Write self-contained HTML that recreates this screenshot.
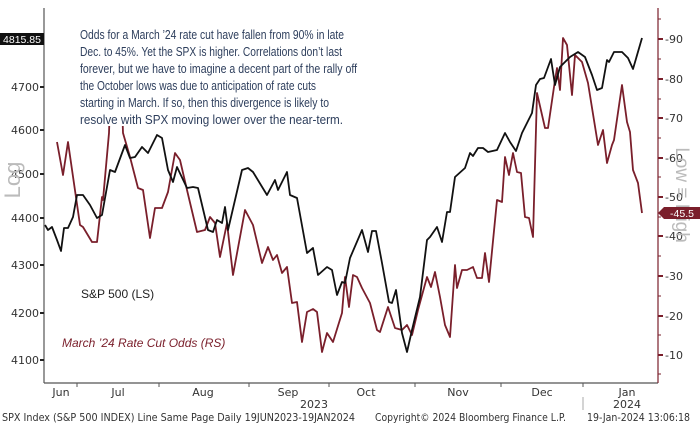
<!DOCTYPE html>
<html><head><meta charset="utf-8"><style>
html,body{margin:0;padding:0;background:#fff;width:700px;height:434px;overflow:hidden}
svg{display:block}
.t{font-family:"DejaVu Sans","Liberation Sans",sans-serif;font-size:11px;fill:#333}
.n{font-family:"Liberation Sans",sans-serif;font-size:13px;fill:#2d3e5c}
</style></head><body>
<svg width="700" height="434" viewBox="0 0 700 434">
<rect width="700" height="434" fill="#fff"/>
<polyline fill="none" stroke="#7a1f2b" stroke-width="1.8" stroke-linejoin="round" points="57,142 63,175 68,142 80,225 83,227 92,242 97,242 102,197 103,200 109,133 112,40 120,40 123,133 130,157 138,188 143,190 150,238 155,208 162,208 168,192 175,153 180,160 187,190 197,232 205,230 210,217 215,223 220,257 227,223 233,275 245,210 253,225 262,263 268,247 273,260 277,255 282,273 287,267 292,303 297,302 302,342 307,312 313,309 317,312 322,352 327,333 333,342 342,313 345,277 349,307 353,275 357,277 362,288 370,303 377,330 380,332 388,307 395,328 402,330 407,325 412,335 418,310 427,277 431,287 435,272 440,297 445,325 450,337 455,265 457,288 462,270 467,270 473,267 477,278 482,278 485,253 489,282 497,200 502,202 505,157 509,175 513,153 517,172 521,173 525,217 529,218 533,237 537,93 545,128 548,128 554,87 557,68 560,90 563,38 567,45 572,95 575,55 582,62 588,83 598,145 603,130 607,163 612,145 614,140 622,85 627,122 630,132 633,170 638,183 642,213"/>
<polyline fill="none" stroke="#111" stroke-width="1.8" stroke-linejoin="round" points="45,225 48,230 52,227 57,240 61,251 64,228 68,228 73,217 77,195 83,195 90,205 97,218 102,215 110,170 115,172 125,145 130,158 135,157 142,147 148,153 157,135 162,138 168,170 173,182 177,167 187,188 193,187 198,188 208,230 213,232 217,220 222,223 225,207 228,230 242,170 248,168 253,172 267,195 275,180 278,190 287,172 290,195 297,198 307,253 313,248 318,275 327,267 332,270 337,295 342,282 345,283 350,258 362,230 368,252 372,231 376,231 382,263 389,302 392,303 396,290 402,333 407,352 412,330 420,297 427,240 430,237 437,227 442,242 447,212 450,212 455,177 465,168 470,153 473,156 478,148 483,148 488,152 497,150 505,133 510,142 516,151 522,133 532,113 536,85 540,79 544,78 551,59 555,85 560,67 570,57 578,52 585,57 592,75 597,90 602,88 607,60 609,62 614,52 622,52 628,58 633,69 642,38"/>
<rect x="76" y="9" width="272" height="117" fill="#fff"/>
<text class="n" x="80" y="39" textLength="264" lengthAdjust="spacingAndGlyphs">Odds for a March ’24 rate cut have fallen from 90% in late</text>
<text class="n" x="80" y="56" textLength="262" lengthAdjust="spacingAndGlyphs">Dec. to 45%. Yet the SPX is higher. Correlations don’t last</text>
<text class="n" x="80" y="73" textLength="277" lengthAdjust="spacingAndGlyphs">forever, but we have to imagine a decent part of the rally off</text>
<text class="n" x="80" y="90" textLength="236" lengthAdjust="spacingAndGlyphs">the October lows was due to anticipation of rate cuts</text>
<text class="n" x="80" y="107" textLength="249" lengthAdjust="spacingAndGlyphs">starting in March. If so, then this divergence is likely to</text>
<text class="n" x="80" y="124" textLength="263" lengthAdjust="spacingAndGlyphs">resolve with SPX moving lower over the near-term.</text>
<g stroke="#555" stroke-width="1.2" fill="none">
<line x1="44" y1="8" x2="44" y2="383"/>
<line x1="44" y1="383" x2="658" y2="383"/>
</g>
<line x1="658" y1="8" x2="658" y2="383" stroke="#7a1f2b" stroke-width="1.2"/>
<g stroke="#222" stroke-width="2">
<line x1="40" y1="87" x2="44" y2="87"/><line x1="40" y1="130" x2="44" y2="130"/><line x1="40" y1="174" x2="44" y2="174"/><line x1="40" y1="218" x2="44" y2="218"/><line x1="40" y1="265" x2="44" y2="265"/><line x1="40" y1="313" x2="44" y2="313"/><line x1="40" y1="360" x2="44" y2="360"/>
</g>
<g class="t" text-anchor="end">
<text x="39" y="91">4700</text><text x="39" y="134">4600</text><text x="39" y="178">4500</text><text x="39" y="222">4400</text><text x="39" y="269">4300</text><text x="39" y="317">4200</text><text x="39" y="364">4100</text>
</g>
<rect x="0" y="33" width="44" height="12" fill="#111"/>
<text x="22" y="43" text-anchor="middle" font-family="Liberation Sans,sans-serif" font-size="10.5" fill="#fff">4815.85</text>
<text transform="translate(20,180) rotate(-90)" text-anchor="middle" font-family="Liberation Sans,sans-serif" font-size="22" fill="#bbb">Log</text>
<g stroke="#7a1f2b" stroke-width="2">
<line x1="658" y1="39" x2="663" y2="39"/><line x1="658" y1="79" x2="663" y2="79"/><line x1="658" y1="118" x2="663" y2="118"/><line x1="658" y1="158" x2="663" y2="158"/><line x1="658" y1="197" x2="663" y2="197"/><line x1="658" y1="236" x2="663" y2="236"/><line x1="658" y1="276" x2="663" y2="276"/><line x1="658" y1="316" x2="663" y2="316"/><line x1="658" y1="355" x2="663" y2="355"/>
</g>
<g stroke="#7a1f2b" stroke-width="1">
<line x1="658" y1="19" x2="661" y2="19"/><line x1="658" y1="59" x2="661" y2="59"/><line x1="658" y1="99" x2="661" y2="99"/><line x1="658" y1="138" x2="661" y2="138"/><line x1="658" y1="177" x2="661" y2="177"/><line x1="658" y1="217" x2="661" y2="217"/><line x1="658" y1="256" x2="661" y2="256"/><line x1="658" y1="296" x2="661" y2="296"/><line x1="658" y1="335" x2="661" y2="335"/><line x1="658" y1="374" x2="661" y2="374"/>
</g>
<g class="t">
<text x="665" y="43">-90</text><text x="665" y="83">-80</text><text x="665" y="122">-70</text><text x="665" y="162">-60</text><text x="665" y="201">-50</text><text x="665" y="240">-40</text><text x="665" y="280">-30</text><text x="665" y="320">-20</text><text x="665" y="359">-10</text>
</g>
<text transform="translate(676,195) rotate(90)" text-anchor="middle" font-family="Liberation Sans,sans-serif" font-size="19" fill="#bbb">Low ≡ High</text>
<polygon points="658,213 664,207 700,207 700,219 664,219" fill="#7a1f2b"/>
<text x="682" y="217" text-anchor="middle" font-family="Liberation Sans,sans-serif" font-size="10.5" fill="#fff">-45.5</text>
<g stroke="#555" stroke-width="1">
<line x1="77" y1="383" x2="77" y2="387"/><line x1="159" y1="383" x2="159" y2="387"/><line x1="249" y1="383" x2="249" y2="387"/><line x1="329" y1="383" x2="329" y2="387"/><line x1="415" y1="383" x2="415" y2="387"/><line x1="501" y1="383" x2="501" y2="387"/><line x1="583" y1="383" x2="583" y2="387"/>
<line x1="583" y1="397" x2="583" y2="410" stroke="#aaa"/>
</g>
<g class="t" text-anchor="middle">
<text x="61" y="396">Jun</text><text x="118" y="396">Jul</text><text x="203" y="396">Aug</text><text x="288" y="396">Sep</text><text x="366" y="396">Oct</text><text x="458" y="396">Nov</text><text x="542" y="396">Dec</text><text x="627" y="396">Jan</text>
<text x="314" y="408">2023</text><text x="627" y="408">2024</text>
</g>
<text x="81" y="298" font-family="Liberation Sans,sans-serif" font-size="12" fill="#222">S&amp;P 500 (LS)</text>
<text x="62" y="347" font-family="Liberation Sans,sans-serif" font-size="12" font-style="italic" fill="#7a1f2b">March ’24 Rate Cut Odds (RS)</text>
<text x="2" y="421" class="t" font-size="10" textLength="353" lengthAdjust="spacingAndGlyphs">SPX Index (S&amp;P 500 INDEX) Line Same Page  Daily 19JUN2023-19JAN2024</text>
<text x="375" y="421" class="t" font-size="10" textLength="191" lengthAdjust="spacingAndGlyphs">Copyright© 2024 Bloomberg Finance L.P.</text>
<text x="587" y="421" class="t" font-size="10" textLength="103" lengthAdjust="spacingAndGlyphs">19-Jan-2024 13:06:18</text>
</svg>
</body></html>
